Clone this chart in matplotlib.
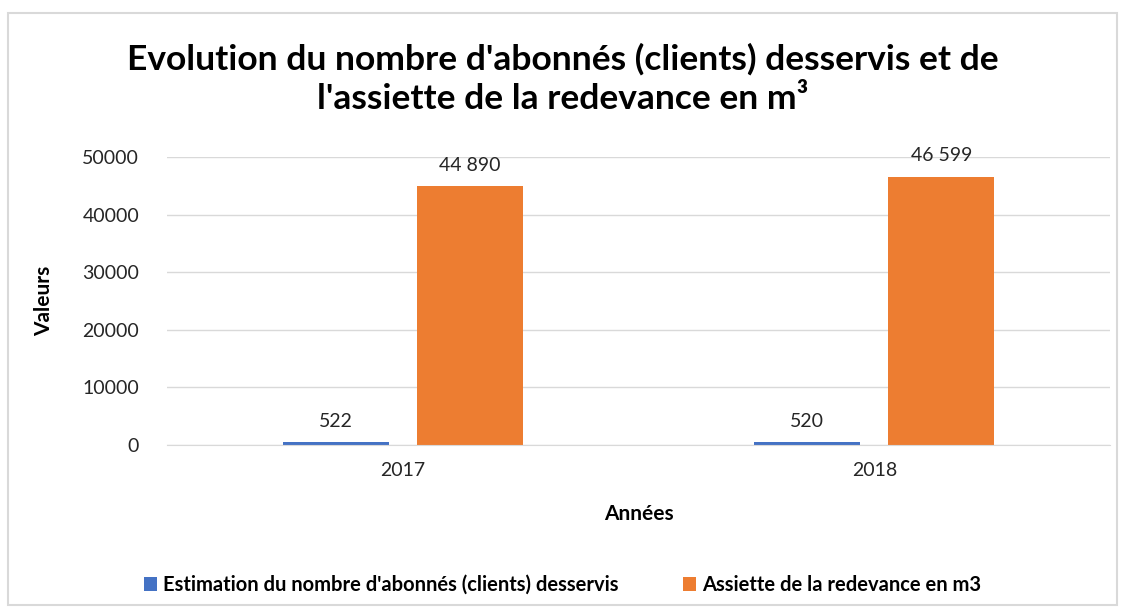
import matplotlib.pyplot as plt
from matplotlib.patches import Rectangle
import numpy as np

annees = ['2017', '2018']
abonnes = [522, 520]
assiette = [44890, 46599]
series_noms = ["Estimation du nombre d'abonnés (clients) desservis",
               "Assiette de la redevance en m3"]
couleurs = ['#4472C4', '#ED7D31']

plt.rcParams['font.family'] = ['Lato', 'DejaVu Sans']

fig = plt.figure(figsize=(11.25, 6.15), dpi=100)
ax = fig.add_axes([0.1484, 0.2764, 0.8383, 0.4683])

# light frame around the chart
fig.patches.append(Rectangle((8 / 1125, 1 - 605 / 615), 1109 / 1125, 592 / 615,
                             transform=fig.transFigure, fill=False,
                             edgecolor='#d9d9d9', linewidth=1.5))

x = np.arange(len(annees))
w = 0.225
off = 0.142
b1 = ax.bar(x - off, abonnes, w, color=couleurs[0], label=series_noms[0])
b2 = ax.bar(x + off, assiette, w, color=couleurs[1], label=series_noms[1])

def fmt(v):
    return f'{v:,}'.replace(',', ' ')

for bars, vals in [(b1, abonnes), (b2, assiette)]:
    for b, v in zip(bars, vals):
        ax.annotate(fmt(v), (b.get_x() + b.get_width() / 2, v),
                    xytext=(0, 9), textcoords='offset points',
                    ha='center', va='bottom', fontsize=14, color='#262626')

ax.set_xlim(-0.5, 1.5)
ax.set_ylim(0, 50000)
ax.set_yticks(range(0, 50001, 10000))
ax.set_xticks(x)
ax.set_xticklabels(annees)
ax.tick_params(length=0, labelsize=14, colors='#262626')
ax.tick_params(axis='y', pad=20)
ax.tick_params(axis='x', pad=12)
ax.grid(axis='y', color='#d9d9d9', linewidth=1)
ax.set_axisbelow(True)
for s in ['top', 'right', 'left']:
    ax.spines[s].set_visible(False)
ax.spines['bottom'].set_color('#d9d9d9')

ax.set_xlabel('Années', fontsize=15, fontweight='bold', labelpad=18)
ax.set_ylabel('Valeurs', fontsize=15, fontweight='bold', labelpad=20)

fig.text(0.5, 1 - 79 / 615, "Evolution du nombre d'abonnés (clients) desservis et de\nl'assiette de la redevance en m³",
         ha='center', va='center', fontsize=25.5, fontweight='bold', linespacing=1.28)

fig.legend(loc='center', bbox_to_anchor=(0.5, 1 - 585 / 615), ncol=2, frameon=False,
           prop={'weight': 'bold', 'size': 14.5}, handlelength=0.65, handleheight=0.65,
           handletextpad=0.3, columnspacing=3.2)

fig.savefig('out.png', dpi=100)
